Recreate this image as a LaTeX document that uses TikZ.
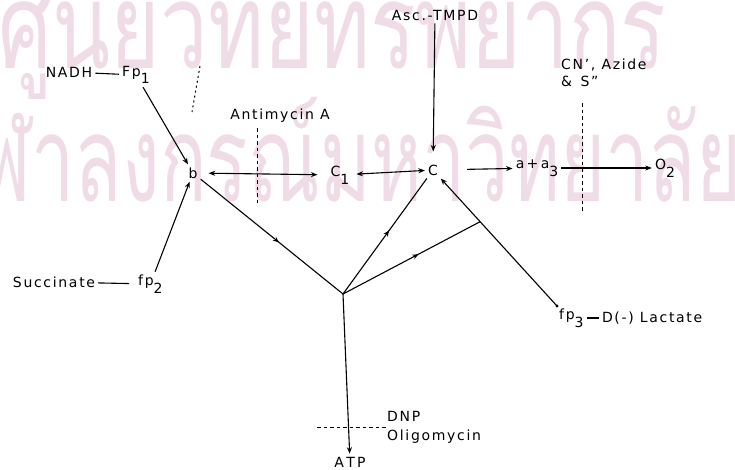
\documentclass[tikz,border=0pt]{standalone}
\usepackage{fontspec}
\setmainfont{DejaVu Sans}[LetterSpace=12]
\newfontfamily\thaifont[Script=Thai]{Loma}
\usetikzlibrary{arrows.meta,positioning,calc,decorations.markings}
\definecolor{wmpink}{RGB}{240,220,230}
\newcommand{\lowsub}[1]{\raisebox{-1ex}{#1}}

\begin{document}
\begin{tikzpicture}[x=1pt, y=-1pt,
    >={Stealth[length=6.5pt,width=5pt]},
    lbl/.style={inner sep=3pt, font=\fontsize{14}{17}\selectfont},
    link/.style={line width=1.1pt},
    arrow/.style={->, line width=1.1pt},
    block/.style={line width=1pt, dash pattern=on 3.5pt off 3pt},
    midarrow/.style={link, postaction={decorate},
        decoration={markings, mark=at position 0.55 with {\arrow{Stealth[length=6pt,width=5pt]}}}}
]
    \useasboundingbox (0,0) rectangle (735,469);
    % watermark
    \node[wmpink, anchor=west, font=\thaifont\fontsize{85}{85}\selectfont] (wm1) at (-5,32) {\scalebox{1}[1.4]{ศูนย์วิทยทรัพยากร}};
    \node[wmpink, anchor=east, font=\thaifont\fontsize{85}{85}\selectfont] (wm2) at (745,165) {\scalebox{0.91}[1.4]{จุฬาลงกรณ์มหาวิทยาลัย}};

    \node[lbl] (nadh) at (69,72) {NADH};
    \node[lbl, anchor=west] (fp1) at (119,75) {Fp\lowsub{1}};
    \node[lbl] (b) at (193,173) {b};
    \node[lbl] (c1) at (340,175) {C\lowsub{1}};
    \node[lbl] (c) at (433,170) {C};
    \node[lbl] (aa3) at (537,168) {a\,+\,a\lowsub{3}};
    \node[lbl] (o2) at (665,168) {O\lowsub{2}};
    \node[lbl] (asc) at (435,15) {Asc.-TMPD};
    \node[lbl, align=left, anchor=north west] (cn) at (558,56) {CN', Azide\\\& \,S''};
    \node[lbl] (anti) at (280,116) {Antimycin A};
    \node[lbl] (succ) at (54,282) {Succinate};
    \node[lbl, anchor=west] (fp2) at (135,284) {fp\lowsub{2}};
    \node[lbl, anchor=west] (fp3) at (556,318) {fp\lowsub{3}};
    \node[lbl, right=12pt of fp3.east, anchor=west] (lact) {D(-) Lactate};
    \node[lbl] (atp) at (350,462) {A\,T\,P};
    \node[lbl, anchor=west] (dnp) at (384,416) {DNP};
    \node[lbl, anchor=west] (oligo) at (384,437) {Oligomycin};

    \coordinate (hub) at (343,294);
    \coordinate (fp3end) at (557,306);
    \coordinate (fork) at ($(fp3end)!0.62!(c)$);

    % inhibitor sites
    \draw[block, dash pattern=on 2pt off 3pt] (200,66) -- (192,112);
    \draw[block] (257,128) -- (257,204);
    \draw[block] (582,103) -- (582,212);
    \draw[block] (317,427) -- (388,427);

    \draw[link] (nadh) -- (fp1);
    \draw[link, shorten >=6pt] (succ) -- (fp2);
    \draw[link] (fp3) -- (lact);
    \draw[arrow] (fp1) -- (b);
    \draw[arrow] (fp2) -- (b);
    \draw[<->, link, shorten <=8pt, shorten >=10pt] (b) -- (c1);
    \draw[<->, link, shorten <=4pt] (c1) -- (c);
    \draw[arrow, shorten >=10pt] (asc) -- (c);
    \draw[arrow, shorten <=26pt] (c) -- (aa3);
    \draw[arrow] (aa3) -- (o2);
    \draw[midarrow] (b) -- (hub);
    \draw[midarrow] (hub) -- (c);
    \draw[midarrow] (hub) -- (fork);
    \draw[arrow] (fp3end) -- (c);
    \fill (fp3end) circle (1.6pt);
    \draw[arrow] (hub) -- (atp);
\end{tikzpicture}
\end{document}
